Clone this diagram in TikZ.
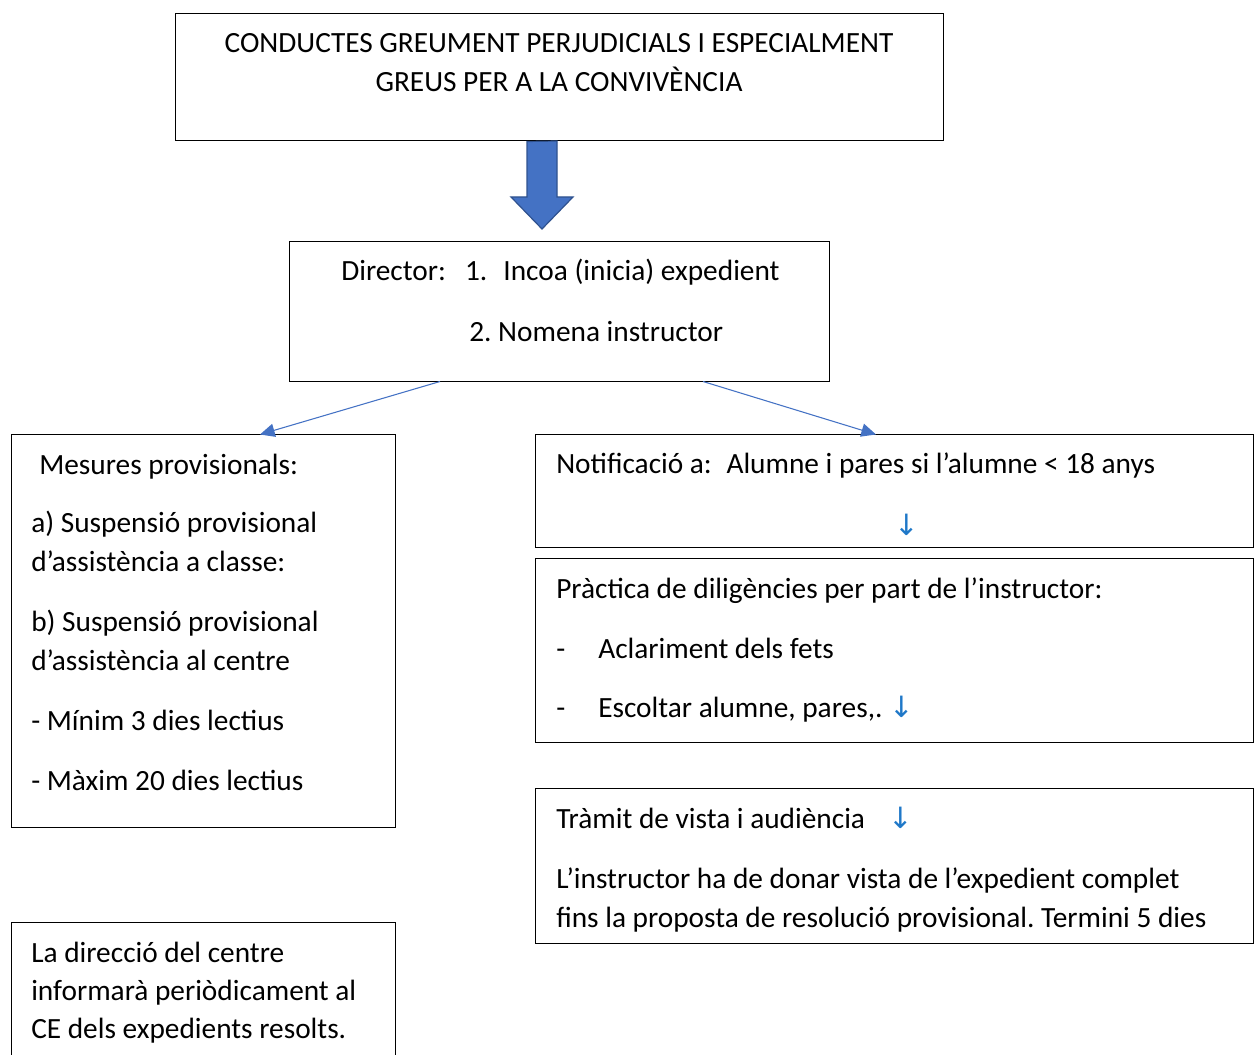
\documentclass[tikz,border=0pt]{standalone}
\usepackage{fontspec}
\setmainfont{Carlito}
\newfontfamily\arrowfont{DejaVu Sans}
\usetikzlibrary{arrows.meta}
\frenchspacing
\definecolor{blockblue}{HTML}{4472C4}
\definecolor{blockedge}{HTML}{2F528F}
\definecolor{smallblue}{HTML}{1F78C8}
\tikzset{
  boxnode/.style={draw=black, line width=0.75pt, rectangle, inner sep=0pt},
  txt/.style={inner sep=0pt, anchor=base west, font=\fontsize{22}{26}\selectfont},
  ctxt/.style={inner sep=0pt, anchor=base, font=\fontsize{22}{26}\selectfont},
  sarrow/.style={inner sep=0pt, anchor=base, text=smallblue, font=\fontsize{22}{26}\arrowfont},
  link/.style={draw=blockblue, line width=0.8pt, -{Triangle[length=11pt,width=10pt]}}
}
\newcommand{\dnarrow}{{\arrowfont\fontsize{22}{26}\selectfont\textcolor{smallblue}{↓}}}
\begin{document}
\begin{tikzpicture}[x=0.75pt,y=-0.75pt]
\useasboundingbox (0,0) rectangle (1259,1055);
% boxes
\node[boxnode, minimum width=768*0.75pt, minimum height=127*0.75pt] (top) at (559,77.5) {};
\node[boxnode, minimum width=540*0.75pt, minimum height=139*0.75pt] (dir) at (559,311.5) {};
\node[boxnode, minimum width=384*0.75pt, minimum height=393*0.75pt] (left) at (203,630.5) {};
\node[boxnode, minimum width=718*0.75pt, minimum height=113*0.75pt] (notif) at (894,490.5) {};
\node[boxnode, minimum width=718*0.75pt, minimum height=184*0.75pt] (dilig) at (894,650) {};
\node[boxnode, minimum width=718*0.75pt, minimum height=155*0.75pt] (tramit) at (894,865.5) {};
\node[boxnode, minimum width=384*0.75pt, minimum height=160*0.75pt] (info) at (203,1002) {};
% block arrow
\draw[fill=blockblue, draw=blockedge, line width=0.9pt, line join=miter]
  (top.south -| 527,0) -- (557,141) -- (557,197) -- (573,197) -- (542,229) -- (511,197) -- (527,197) -- cycle;
% connectors
\coordinate (d1) at (440,381.5);
\coordinate (d2) at (703,381.5);
\coordinate (l1) at (260,434.5);
\coordinate (r1) at (876,434.5);
\draw[link] (d1) -- (l1);
\draw[link] (d2) -- (r1);
% texts
\node[ctxt] (t1) at (559,53) {CONDUCTES GREUMENT PERJUDICIALS I ESPECIALMENT};
\node[ctxt] (t2) at (559,92) {GREUS PER A LA CONVIVÈNCIA};
\node[txt] (d1t) at (341,281) {Director:\hspace{0.65em}1.\hspace{0.55em}Incoa (inicia) expedient};
\node[txt] (d2t) at (469,342) {2. Nomena instructor};
\node[txt] (m0) at (39,474) {Mesures provisionals:};
\node[txt] (m1) at (31,532) {a) Suspensió provisional};
\node[txt] (m2) at (31,571) {d’assistència a classe:};
\node[txt] (m3) at (31,631) {b) Suspensió provisional};
\node[txt] (m4) at (31,670) {d’assistència al centre};
\node[txt] (m5) at (31,730) {- Mínim 3 dies lectius};
\node[txt] (m6) at (31,790) {- Màxim 20 dies lectius};
\node[txt] (n1) at (556,473) {Notificació a:\hspace{0.5em}Alumne i pares si l’alumne < 18 anys};
\node[sarrow] (n2) at (907,535) {↓};
\node[txt] (p1) at (556,598) {Pràctica de diligències per part de l’instructor:};
\node[txt] (p2a) at (556,658) {-};
\node[txt] (p2) at (598,658) {Aclariment dels fets};
\node[txt] (p3a) at (556,717) {-};
\node[txt] (p3) at (598,717) {Escoltar alumne, pares,. \dnarrow};
\node[txt] (v1) at (556,828) {Tràmit de vista i audiència\hspace{0.8em}\dnarrow};
\node[txt] (v2) at (556,888) {L’instructor ha de donar vista de l’expedient complet};
\node[txt] (v3) at (556,927) {fins la proposta de resolució provisional. Termini 5 dies};
\node[txt] (i1) at (31,962) {La direcció del centre};
\node[txt] (i2) at (31,1000) {informarà periòdicament al};
\node[txt] (i3) at (31,1038) {CE dels expedients resolts.};
\end{tikzpicture}
\end{document}
